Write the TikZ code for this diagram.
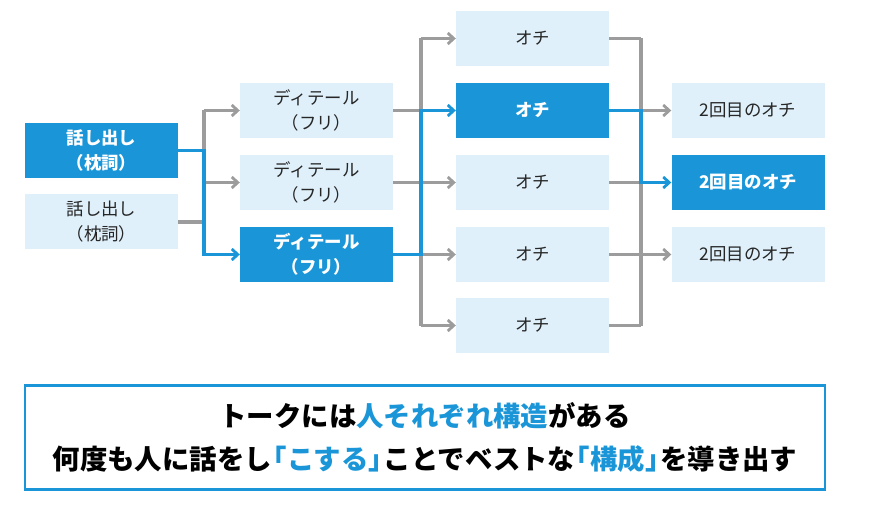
\documentclass[tikz,border=0pt]{standalone}
\usepackage{fontspec}
\setmainfont{Noto Sans CJK JP}
\usetikzlibrary{arrows.meta}
\definecolor{cblue}{HTML}{1A96D8}
\definecolor{clight}{HTML}{DFF0FA}
\definecolor{cgray}{HTML}{9C9C9C}
\newcommand{\lb}{\kern-.45em「}
\newcommand{\rb}{」\kern-.45em}
\begin{document}
\begin{tikzpicture}[x=1bp,y=-1bp,
  box/.style={minimum width=153bp,minimum height=55bp,inner sep=0pt,align=center,font=\fontsize{17.5}{25}\selectfont,fill=clight,text=black!85},
  hot/.style={box,fill=cblue,text=white,font=\fontsize{17.5}{25}\selectfont\bfseries},
  gl/.style={draw=cgray,line width=3.2bp},
  bl/.style={draw=cblue,line width=3.4bp},
  tip/.style={-{Straight Barb[length=6bp,width=11bp,line width=2.8bp]}},
  hi/.style={text=cblue}]
\useasboundingbox (0,0) rectangle (870,515);
% column 1
\node[hot] (a1) at (101.5,150.5) {話し出し\\（枕詞）};
\node[box] (a2) at (101.5,222) {話し出し\\（枕詞）};
% column 2
\node[box] (b1) at (316.5,110.5) {ディテール\\（フリ）};
\node[box] (b2) at (316.5,182.5) {ディテール\\（フリ）};
\node[hot] (b3) at (316.5,254.5) {ディテール\\（フリ）};
% column 3
\node[box] (c1) at (532.5,38.5) {オチ};
\node[hot] (c2) at (532.5,110.5) {オチ};
\node[box] (c3) at (532.5,182.5) {オチ};
\node[box] (c4) at (532.5,254.5) {オチ};
\node[box] (c5) at (532.5,325.5) {オチ};
% column 4
\node[box] (d1) at (748,110.5) {2回目のオチ};
\node[hot] (d2) at (748,182.5) {2回目のオチ};
\node[box] (d3) at (748,254.5) {2回目のオチ};
% buses
\coordinate (p) at (204,0);
\coordinate (q) at (421,0);
\coordinate (r) at (641,0);
% gray connectors
\draw[gl] (a2.east) -- (a2.east -| p);
\draw[gl] (b1.west -| p) -- (a1.east -| p);
\draw[gl,tip] (b1.west -| p) -- (b1.west);
\draw[gl,tip] (b2.west -| p) -- (b2.west);
\draw[gl] (c1.west -| q) -- (c5.west -| q);
\foreach \n in {b1,b2} \draw[gl] (\n.east) -- (\n.east -| q);
\foreach \n in {c1,c3,c4,c5} \draw[gl,tip] (\n.west -| q) -- (\n.west);
\draw[gl] (c1.east -| r) -- (c5.east -| r);
\foreach \n in {c1,c3,c4,c5} \draw[gl] (\n.east) -- (\n.east -| r);
\foreach \n in {d1,d3} \draw[gl,tip] (\n.west -| r) -- (\n.west);
% blue path
\draw[bl,tip] (a1.east) -- (a1.east -| p) -- (b3.west -| p) -- (b3.west);
\draw[bl,tip] (b3.east) -- (b3.east -| q) -- (c2.west -| q) -- (c2.west);
\draw[bl,tip] (c2.east) -- (c2.east -| r) -- (d2.west -| r) -- (d2.west);
% bottom message
\node[draw=cblue,line width=2.8bp,minimum width=800bp,minimum height=104bp,inner sep=0pt,align=center,
  font=\fontsize{27.5}{44}\selectfont\bfseries] (msg) at (425,437.5)
  {トークには{\color{cblue}人それぞれ構造}がある\\何度も人に話をし{\color{cblue}\lb こする\rb}ことでベストな{\color{cblue}\lb 構成\rb}を導き出す};
\end{tikzpicture}
\end{document}
